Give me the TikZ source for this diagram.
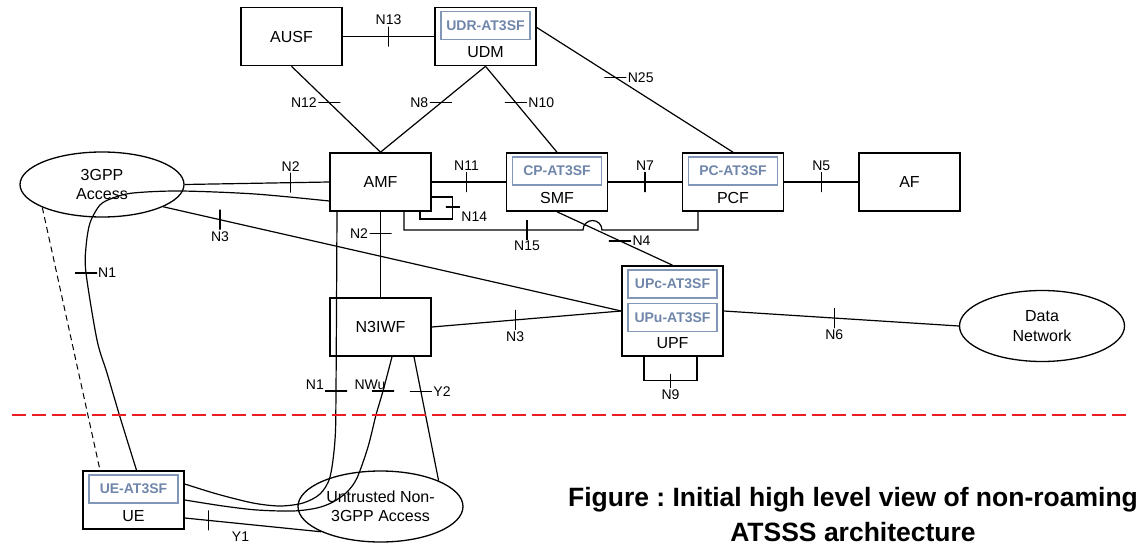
\documentclass[tikz,border=0pt]{standalone}
\usepackage{fontspec}
\setmainfont{Liberation Sans}
\usetikzlibrary{positioning,shapes.geometric}
\definecolor{atblue}{RGB}{111,134,170}
\definecolor{atline}{RGB}{130,151,184}
\definecolor{cutred}{RGB}{235,30,35}
\frenchspacing
\tikzset{
  nf/.style={draw, line width=1.6pt, minimum width=101pt, minimum height=58pt, inner sep=0pt},
  sf/.style={draw=atline, line width=1.5pt, text=atblue, minimum width=89pt, minimum height=28pt, inner sep=0pt, font=\fontsize{14}{16}\selectfont\bfseries},
  acc/.style={ellipse, draw, line width=1.3pt, inner sep=0pt, align=center},
  lnk/.style={line width=1.2pt},
  vtick/.style={draw, line width=1.2pt, minimum width=0pt, minimum height=20pt, inner sep=0pt, outer sep=0pt},
  htick/.style={draw, line width=1.2pt, minimum width=22pt, minimum height=0pt, inner sep=0pt, outer sep=0pt},
  lbl/.style={font=\fontsize{14}{16}\selectfont, inner sep=1pt},
  figcap/.style={font=\fontsize{26.5}{35}\selectfont\bfseries, inner sep=0pt},
}
\begin{document}
\begin{tikzpicture}[x=1pt, y=-1pt, font=\fontsize{16}{19.5}\selectfont]
  \useasboundingbox (0,0) rectangle (1136,546);
  \node[nf] (ausf) at (291.5,36.5) {AUSF};
  \node[nf] (udm) at (485.5,36.5) {};
  \node[sf, below=4pt of udm.north] (udr) {UDR-AT3SF};
  \node (udmt) at ([yshift=14pt]udm.south) {UDM};
  \node[nf] (amf) at (380.5,182) {AMF};
  \node[nf] (smf) at (557,182) {};
  \node[sf, below=4pt of smf.north] (cpat) {CP-AT3SF};
  \node (smft) at ([yshift=14pt]smf.south) {SMF};
  \node[nf] (pcf) at (733,182) {};
  \node[sf, below=4pt of pcf.north] (pcat) {PC-AT3SF};
  \node (pcft) at ([yshift=14pt]pcf.south) {PCF};
  \node[nf] (af) at (909.5,182) {AF};
  \node[nf] (n3iwf) at (380.5,327) {N3IWF};
  \node[nf, minimum height=90pt] (upf) at (672.5,311) {};
  \node[sf, below=4pt of upf.north] (upcat) {UPc-AT3SF};
  \node[sf, below=4pt of upcat] (upuat) {UPu-AT3SF};
  \node (upft) at ([yshift=14pt]upf.south) {UPF};
  \node[nf] (ue) at (133.5,500) {};
  \node[sf, below=4pt of ue.north] (ueat) {UE-AT3SF};
  \node (uet) at ([yshift=14pt]ue.south) {UE};
  \node[acc, minimum width=164pt, minimum height=65pt] (gpp) at (102,184.5) {3GPP\\Access};
  \node[acc, minimum width=165pt, minimum height=71pt] (untr) at (380.5,506.5) {Untrusted Non-\\3GPP Access};
  \node[acc, minimum width=165pt, minimum height=71pt] (dn) at (1042,326) {Data\\Network};

  \draw[lnk] (ausf.east) -- node[vtick, label distance=6pt, label={[lbl]above:N13}] (t13) {} (udm.west);
  \draw[lnk] (ausf.south) -- node[htick, pos=.425, label distance=10pt, label={[lbl]left:N12}] (t12) {} (amf.north);
  \draw[lnk] (udm.south) -- node[htick, pos=.425, label distance=10pt, label={[lbl]left:N8}] (t8) {} (amf.north);
  \draw[lnk] (udm.south) -- node[htick, pos=.425, label distance=3pt, label={[lbl]right:N10}] (t10) {} (smf.north);
  \draw[lnk] ([yshift=9pt]udm.east) -- node[htick, pos=.4, label distance=3pt, label={[lbl]right:N25}] (t25) {} (pcf.north);
  \draw[lnk] (gpp.east) -- node[vtick, pos=.733, label distance=6pt, label={[lbl]above:N2}] (t2a) {} (amf.west);
  \draw[lnk] (amf.east) -- node[vtick, pos=.47, label distance=6pt, label={[lbl]above:N11}] (t11) {} (smf.west);
  \draw[lnk] (smf.east) -- node[vtick, label distance=6pt, label={[lbl]above:N7}] (t7) {} (pcf.west);
  \draw[lnk] (pcf.east) -- node[vtick, label distance=6pt, label={[lbl]above:N5}] (t5) {} (af.west);
  \draw[lnk] (amf.south) -- node[htick, pos=.25, label distance=9pt, label={[lbl]left:N2}] (t2b) {} (n3iwf.north);
  \draw[lnk] (gpp.340) -- node[vtick, pos=.124, label distance=7pt, label={[lbl]below:N3}] (t3a) {} (upf.west);
  \draw[lnk] (n3iwf.east) -- node[vtick, pos=.44, label distance=7pt, label={[lbl]below:N3}] (t3b) {} (upf.west);
  \draw[lnk] (smf.south) -- node[htick, pos=.545, label distance=14pt, label={[lbl]right:N4}] (t4) {} (upf.north);
  \draw[lnk] (upf.east) -- node[vtick, pos=.47, label distance=7pt, label={[lbl]below:N6}] (t6) {} (dn.west);
  \draw[lnk] ([yshift=-15pt]amf.east) -| node[htick, pos=.727, minimum width=14pt, label distance=3pt, label={[lbl, yshift=-10pt]right:N14}] (t14) {} ++(21,22) -| ([xshift=39.5pt]amf.south);
  \draw[lnk] ([xshift=23.5pt]amf.south) |- (583,230) arc[start angle=180, end angle=0, radius=9.5pt] -| ([xshift=-35pt]pcf.south);
  \node[vtick, label distance=7pt, label={[lbl]below:N15}] (t15) at (527,230) {};
  \draw[lnk] ([xshift=-28.5pt]upf.south) -- ++(0,24) -| node[vtick, pos=.25, minimum height=14pt, label distance=9pt, label={[lbl]below:N9}] (t9) {} ([xshift=24.5pt]upf.south);

  \coordinate (n1s) at ([yshift=-19pt]amf.west);
  \coordinate (n1e) at ([xshift=3pt]ue.north);
  \node[htick, label distance=1pt, label={[lbl]right:N1}] (t1) at (86,273) {};
  \draw[lnk] plot[smooth] coordinates {(n1s) (255,194) (180,191) (133,193) (113,198) (100,205) (90,223) (86,247) (t1.center) (97,340) (107,373) (120,417) (n1e)};
  \draw[line width=1pt, dash pattern=on 6pt off 4pt] (gpp.201) -- ([xshift=-33.5pt]ue.north);

  \coordinate (n1u) at ([xshift=-43.5pt]amf.south);
  \coordinate (uea) at ([yshift=16pt]ue.east);
  \node[htick, label distance=10pt, label={[lbl, yshift=6pt]left:N1}] (t1u) at (336,391) {};
  \draw[lnk] plot[smooth] coordinates {(n1u) (t1u.center) (335,440) (330,477) (320,494) (303,503) (280,506) (253,503) (217,494) (uea)};
  \coordinate (nwu) at ([xshift=11.5pt]n3iwf.south);
  \node[htick, label distance=9pt, label={[lbl, xshift=-13pt]above:NWu}] (tnwu) at (383,391) {};
  \draw[lnk] plot[smooth] coordinates {(nwu) (tnwu.center) (376,415) (368,447) (357,478) (347,492) (333,502) (317,508) (293,511) (257,510) (223,506) (ue.east)};
  \draw[lnk] ([xshift=33.5pt]n3iwf.south) -- node[htick, pos=.28, label distance=3pt, label={[lbl]right:Y2}] (ty2) {} (untr.24);
  \draw[lnk] ([yshift=-18pt]ue.east) -- node[vtick, pos=.174, label distance=-2pt, label={[lbl, xshift=32pt]below:Y1}] (ty1) {} (untr.203);

  \draw[cutred, line width=1.3pt, dash pattern=on 14pt off 6pt] (12,415) -- (1128,415);
  \node[figcap, anchor=base] (cap1) at (853,506) {Figure : Initial high level view of non-roaming};
  \node[figcap, anchor=base] (cap2) at (853,541) {ATSSS architecture};
\end{tikzpicture}
\end{document}
